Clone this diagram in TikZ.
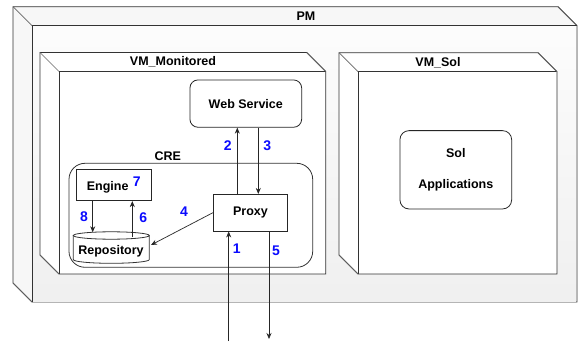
\documentclass[tikz,border=0pt]{standalone}
\usepackage{fontspec}
\setmainfont{Liberation Sans}
\usetikzlibrary{arrows.meta}
\definecolor{numblue}{RGB}{10,10,255}
\newcommand\threedbox[6]{%
  \fill[#6] (#1,#2) -- ({#3-#5},#2) -- (#3,{#2+#5}) -- (#3,#4) -- ({#1+#5},#4) -- (#1,{#4-#5}) -- cycle;
  \draw[edgeline] (#1,#2) -- ({#3-#5},#2) -- (#3,{#2+#5}) -- (#3,#4) -- ({#1+#5},#4) -- (#1,{#4-#5}) -- cycle;
  \draw[edgeline] ({#1+#5},#4) -- ({#1+#5},{#2+#5}) -- (#3,{#2+#5});
  \draw[diagline] (#1,#2) -- ({#1+#5},{#2+#5});
  \draw[diagline] ({#3-#5},#2) -- (#3,{#2+#5});
  \draw[diagline] (#1,{#4-#5}) -- ({#1+#5},#4);
}
\begin{document}
\begin{tikzpicture}[x=1pt,y=-1pt,
  lbl/.style={font=\bfseries\fontsize{12.5}{14}\selectfont, inner sep=0pt},
  num/.style={font=\bfseries\fontsize{14}{16}\selectfont, text=numblue, inner sep=0pt},
  box/.style={draw=black!85, fill=white, line width=0.8pt, inner sep=0pt, font=\bfseries\fontsize{12.5}{14}\selectfont},
  arr/.style={-{Stealth[length=6pt,width=5pt]}, line width=0.7pt, black!85},
  edgeline/.style={draw=black!80, line width=0.8pt},
  diagline/.style={draw=black!60, line width=0.7pt}
]
\useasboundingbox (0,0) rectangle (579,345);
\fill[white] (0,0) rectangle (579,345);
% PM
\threedbox{13}{6.7}{577}{302}{19}{gray!6}
\shade[top color=gray!2, bottom color=gray!12] (32.3,26) rectangle (576.2,301.2);
\draw[edgeline] (32,302) -- (32,25.7) -- (577,25.7);
\node[lbl] (pm) at (306,16) {PM};
% VM_Monitored
\threedbox{40}{52.5}{325.7}{274}{19}{white}
\node[lbl] (vmm) at (173,62) {VM\_Monitored};
% VM_Sol
\threedbox{339}{52.7}{557}{274}{19}{white}
\node[lbl] (vms) at (438,62.5) {VM\_Sol};
% Sol Applications
\node[box, rounded corners=9pt, minimum width=111.7pt, minimum height=78.3pt, align=center,
  font=\bfseries\fontsize{12.5}{31}\selectfont] (sol) at (455.8,169.8) {Sol\\Applications};
% Web Service
\node[box, rounded corners=8pt, minimum width=111.7pt, minimum height=47.3pt] (ws) at (245.8,103.6) {Web Service};
% CRE
\draw[edgeline, rounded corners=16pt] (69,163.3) rectangle (312.7,267.3);
\node[lbl] (cre) at (167.7,156) {CRE};
% Proxy
\node[box, minimum width=74.4pt, minimum height=36.7pt] (proxy) at (250.5,212.7) {Proxy};
% Engine
\node[box, minimum width=75.7pt, minimum height=31.4pt] (engine) at (113.8,185) {};
\node[lbl] (enginetxt) at (107.7,187) {Engine};
% Repository (cylinder)
\node[minimum width=76pt, minimum height=31.6pt, inner sep=0pt] (repo) at (111.3,249.5) {};
\draw[edgeline, fill=white] (73.3,235.5) -- (73.3,259.6) arc[start angle=180, end angle=360, x radius=38pt, y radius=3.7pt] -- (149.3,235.5);
\draw[edgeline, fill=white] (111.3,235.5) ellipse[x radius=38pt, y radius=3.7pt];
\node[lbl] (repotxt) at (111,251) {Repository};
% coordinates for connectors
\coordinate (c1) at (228.7,341);
\coordinate (c5) at (269,339);
\coordinate (x2) at (237.3,0);
\coordinate (x3) at (258.3,0);
\coordinate (x8) at (92.7,0);
\coordinate (x6) at (132.3,0);
\coordinate (r8) at (92.7,232.3);
\coordinate (r6) at (132.3,237);
\coordinate (r4) at (151,245);
% connectors
\draw[arr] (proxy.north -| x2) -- (ws.south -| x2);
\draw[arr] (ws.south -| x3) -- (proxy.north -| x3);
\draw[arr] (c1) -- (proxy.south -| c1);
\draw[arr] (proxy.south -| c5) -- (c5);
\draw[arr] (proxy.west) -- (r4);
\draw[arr] (engine.south -| x8) -- (r8);
\draw[arr] (r6) -- (engine.south -| x6);
% numbers
\node[num] at (227.7,146) {2};
\node[num] at (267.3,146) {3};
\node[num] at (84,216.7) {8};
\node[num] at (143.3,217.7) {6};
\node[num] at (184,211.7) {4};
\node[num] at (136.7,181.7) {7};
\node[num] at (236.7,249) {1};
\node[num] at (276,250.7) {5};
\end{tikzpicture}
\end{document}
